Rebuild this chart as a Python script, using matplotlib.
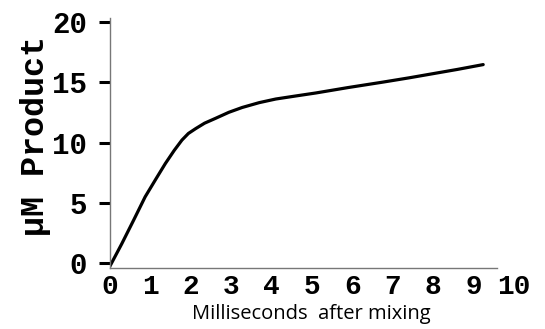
import matplotlib.pyplot as plt

# values
time_ms = [0.0, 0.3, 0.6, 0.88, 1.15, 1.38, 1.6, 1.79, 1.95, 2.13, 2.35, 2.62,
           2.95, 3.28, 3.7, 4.11, 4.6, 5.1, 5.9, 6.76, 7.4, 8.0, 8.6, 9.24]
product_um = [-0.3, 1.6, 3.6, 5.5, 7.0, 8.26, 9.35, 10.2, 10.75, 11.15, 11.6, 12.0,
              12.5, 12.9, 13.3, 13.6, 13.85, 14.1, 14.55, 15.0, 15.35, 15.7, 16.05, 16.45]
x_ticks = list(range(0, 11))
y_ticks = [0, 5, 10, 15, 20]

mono = "Liberation Mono"

fig = plt.figure(figsize=(5.45, 3.29), dpi=100)
ax = fig.add_axes([0.201, 0.1854, 0.742, 0.7596])

ax.plot(time_ms, product_um, color="black", lw=2.3, solid_capstyle="round")

ax.set_xlim(0, 10)
ax.set_ylim(-0.39, 20.3)
ax.set_xticks(x_ticks)
ax.set_yticks(y_ticks)
ax.set_xticklabels([str(t) for t in x_ticks], family=mono, fontsize=20, fontweight="bold")
ax.set_yticklabels([str(t) for t in y_ticks], family=mono, fontsize=21, fontweight="bold")

ax.tick_params(axis="x", length=0, pad=4)
ax.tick_params(axis="y", length=8, width=2.2, pad=8, color="black")

for s in ["top", "right"]:
    ax.spines[s].set_visible(False)
for s in ["left", "bottom"]:
    ax.spines[s].set_color("#777777")
    ax.spines[s].set_linewidth(1.0)
ax.spines["bottom"].set_bounds(0, 9.58)

ax.set_ylabel("\u00b5M Product", family=mono, fontsize=24, fontweight="bold",
              labelpad=1, y=0.53)
ax.set_xlabel("Milliseconds  after mixing", family="Open Sans", fontsize=14.5, labelpad=3)

fig.savefig("out.png", dpi=100)
